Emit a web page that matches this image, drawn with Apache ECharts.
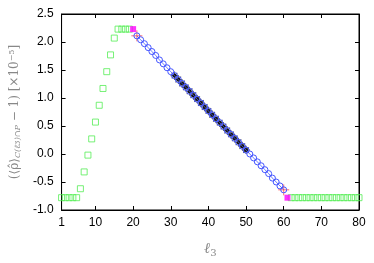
<!DOCTYPE html>
<html><head><meta charset="utf-8">
<script src="https://cdn.jsdelivr.net/npm/echarts@6/dist/echarts.min.js"></script>
<style>html,body{margin:0;padding:0;background:#fff}#c{width:374px;height:263px}</style>
</head><body><div id="c"></div>
<script>
const xTicks = [1,10,20,30,40,50,60,70,80];
const yTicks = [-1.0,-0.5,0.0,0.5,1.0,1.5,2.0,2.5];
const greenX = [1,2,3,4,5,6,7,8,9,10,11,12,13,14,15,16,17,18,19,
  62,63,64,65,66,67,68,69,70,71,72,73,74,75,76,77,78,79,80];
const greenY = [-0.78,-0.78,-0.78,-0.78,-0.78,-0.62,-0.32,-0.02,0.27,0.57,0.87,1.17,1.47,1.77,2.07,2.23,2.23,2.23,2.23,
  -0.78,-0.78,-0.78,-0.78,-0.78,-0.78,-0.78,-0.78,-0.78,-0.78,-0.78,-0.78,-0.78,-0.78,-0.78,-0.78,-0.78,-0.78,-0.78];
const magentaX = [20,61];
const magentaY = [2.23,-0.78];
const blueX = [21,22,23,24,25,26,27,28,29,30,31,32,33,34,35,36,37,38,39,40,
  41,42,43,44,45,46,47,48,49,50,51,52,53,54,55,56,57,58,59,60];
const blueY = [2.11,2.04,1.97,1.90,1.83,1.76,1.68,1.61,1.54,1.47,1.40,1.33,1.26,1.19,1.12,1.05,0.98,0.91,0.84,0.77,
  0.70,0.63,0.56,0.49,0.42,0.35,0.28,0.21,0.14,0.07,0.00,-0.07,-0.14,-0.21,-0.28,-0.35,-0.43,-0.50,-0.57,-0.64];
const starX = [31,32,33,34,35,36,37,38,39,40,41,42,43,44,45,46,47,48,49,50];
const starY = [1.40,1.33,1.26,1.19,1.12,1.05,0.98,0.91,0.84,0.77,0.70,0.63,0.56,0.49,0.42,0.35,0.28,0.21,0.14,0.07];
const plusX = [21,60];
const plusY = [2.11,-0.64];

const zip = (a,b)=>a.map((v,i)=>[v,b[i]]);
const chart = echarts.init(document.getElementById('c'));
const lbl = {color:'#000', fontSize:12, fontFamily:'Liberation Sans'};
chart.setOption({
  animation:false,
  grid:{left:60, right:15, top:14, bottom:51, show:true, borderColor:'#000', borderWidth:1, backgroundColor:'transparent'},
  xAxis:[
    {type:'value', min:1, max:80, position:'bottom',
      axisLine:{show:true, onZero:false, lineStyle:{color:'#000'}},
      axisTick:{show:true, inside:true, length:4, customValues:xTicks, lineStyle:{color:'#000'}},
      axisLabel:Object.assign({customValues:xTicks, margin:7}, lbl),
      splitLine:{show:false},
      name:'{l|ℓ}{s|3}', nameLocation:'middle', nameGap:30,
      nameTextStyle:{rich:{
        l:{color:'#888', fontSize:15, fontFamily:'DejaVu Serif', fontStyle:'italic'},
        s:{color:'#888', fontSize:10, fontFamily:'DejaVu Serif', verticalAlign:'bottom', padding:[8,0,0,0]}}}},
    {type:'value', min:1, max:80, position:'top',
      axisLine:{show:true, onZero:false, lineStyle:{color:'#000'}},
      axisTick:{show:true, inside:true, length:4, customValues:xTicks, lineStyle:{color:'#000'}},
      axisLabel:{show:false, customValues:xTicks}, splitLine:{show:false}}
  ],
  yAxis:[
    {type:'value', min:-1, max:2.5, interval:0.5, position:'left',
      axisLine:{show:true, onZero:false, lineStyle:{color:'#000'}},
      axisTick:{show:true, inside:true, length:4, lineStyle:{color:'#000'}},
      axisLabel:Object.assign({margin:8, formatter:v=>v.toFixed(1)}, lbl),
      splitLine:{show:false},
      name:'{a|(⟨ρ̂⟩}{s|C(ℓ3)∩P}{a| − 1) [×10}{p|−5}{a|]}', nameLocation:'middle', nameGap:38, nameRotate:90,
      nameTextStyle:{color:'#888', fontSize:12, fontFamily:'DejaVu Serif',
        rich:{a:{color:'#888',fontSize:12,fontFamily:'DejaVu Serif'},
              s:{color:'#888',fontSize:8,fontFamily:'DejaVu Serif',fontStyle:'italic',verticalAlign:'bottom',padding:[6,0,0,0]},
              p:{color:'#888',fontSize:8,fontFamily:'DejaVu Serif',verticalAlign:'top',padding:[0,0,6,0]}}}},
    {type:'value', min:-1, max:2.5, interval:0.5, position:'right',
      axisLine:{show:true, onZero:false, lineStyle:{color:'#000'}},
      axisTick:{show:true, inside:true, length:4, lineStyle:{color:'#000'}},
      axisLabel:{show:false}, splitLine:{show:false}}
  ],
  series:[
    {type:'scatter', data:zip(greenX,greenY), symbol:'rect', symbolSize:6,
      itemStyle:{color:'rgba(0,0,0,0)', borderColor:'#55ee55', borderWidth:1}},
    {type:'scatter', data:zip(magentaX,magentaY), symbol:'rect', symbolSize:6,
      itemStyle:{color:'#ff00ff'}},
    {type:'scatter', data:zip(plusX,plusY),
      symbol:'path://M0,5L10,5M5,0L5,10', symbolSize:11,
      itemStyle:{color:'rgba(0,0,0,0)', borderColor:'#ff4848', borderWidth:1}},
    {type:'line', data:zip(blueX,blueY), symbol:'circle', symbolSize:6, showAllSymbol:true,
      lineStyle:{color:'#4455ff', width:0.8},
      itemStyle:{color:'rgba(0,0,0,0)', borderColor:'#4455ff', borderWidth:1}},
    {type:'scatter', data:zip(starX,starY),
      symbol:'path://M0,5L10,5M5,0L5,10M1.5,1.5L8.5,8.5M8.5,1.5L1.5,8.5', symbolSize:8,
      itemStyle:{color:'rgba(0,0,0,0)', borderColor:'#333', borderWidth:1.1}},
    {type:'scatter', data:zip(starX,starY), symbol:'circle', symbolSize:4,
      itemStyle:{color:'#000'}}
  ]
});
</script></body></html>
